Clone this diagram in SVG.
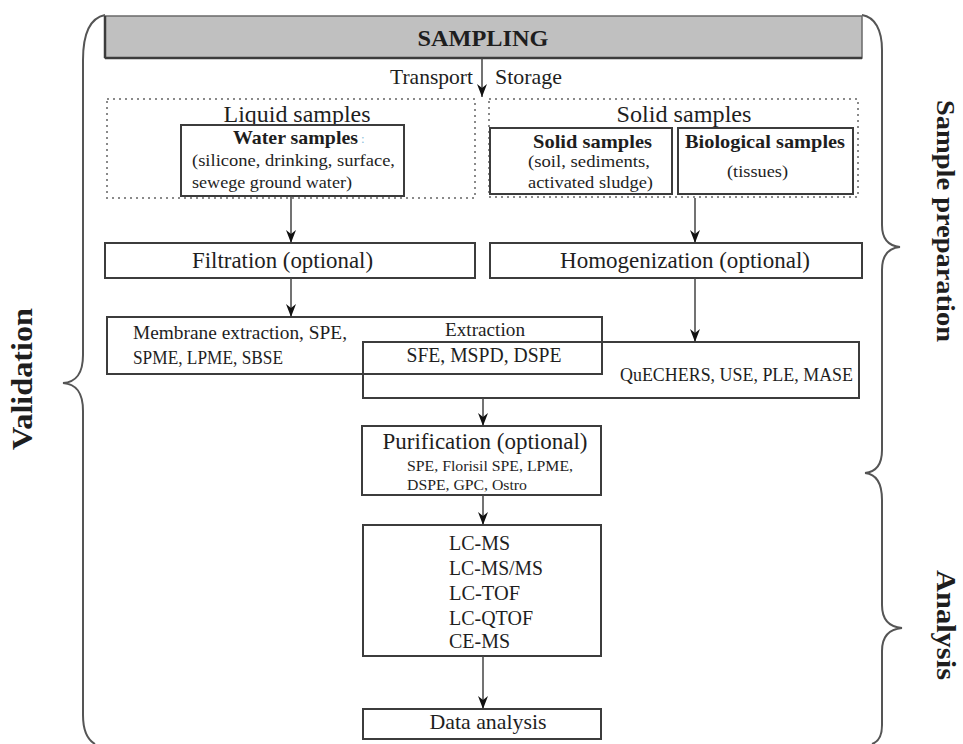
<svg xmlns="http://www.w3.org/2000/svg" width="963" height="744" viewBox="0 0 963 744">
<style>
text{font-family:"Liberation Serif","Times New Roman",serif;fill:#1e1e1e}
.box{fill:#fff;stroke:#3c3c3c;stroke-width:2}
.ext{fill:none;stroke:#3c3c3c;stroke-width:2}
.dot{fill:none;stroke:#8a8a8a;stroke-width:2;stroke-dasharray:2 4}
.brace{fill:none;stroke:#555;stroke-width:2}
.con{stroke:#444;stroke-width:1.5;fill:none;marker-end:url(#ah)}
.b{font-weight:bold}
.m{text-anchor:middle}
</style>
<defs>
<marker id="ah" markerUnits="userSpaceOnUse" markerWidth="10" markerHeight="13" refX="5" refY="13" orient="0" viewBox="0 0 10 13">
<path d="M0,0 L5,4 L10,0 L5,13 Z" fill="#111"/>
</marker>
</defs>

<g id="braces">
<path class="brace" d="M105,15 C90,18 83,35 83,60 L83,355 C83,374 76,382 63,383 C76,384 83,392 83,411 L83,715 C83,732 88,740 95,744"/>
<path class="brace" d="M862,15 C875,17 882,30 882,50 L882,225 C882,240 889,246 900,247 C889,248 882,255 882,270 L882,450 C882,465 875,472 865,473"/>
<path class="brace" d="M865,473 C875,474 882,482 882,500 L882,605 C882,620 890,627 902,628 C890,629 882,636 882,651 L882,725 C882,737 878,742 872,744"/>
</g>

<g id="sampling">
<rect x="105" y="16" width="757" height="42" fill="#c0c0c0" stroke="#6a6a6a" stroke-width="1.5"/>
<line x1="105" y1="58" x2="862" y2="58" stroke="#3c3c3c" stroke-width="2.5"/>
<line x1="105" y1="16" x2="105" y2="58" stroke="#3c3c3c" stroke-width="2.5"/>
<text class="b m" x="483" y="46" font-size="24" textLength="131" lengthAdjust="spacingAndGlyphs">SAMPLING</text>
</g>

<g id="transport-labels">
<text x="390" y="84" font-size="21" textLength="83" lengthAdjust="spacingAndGlyphs">Transport</text>
<text x="495" y="84" font-size="21" textLength="67" lengthAdjust="spacingAndGlyphs">Storage</text>
</g>

<g id="liquid-group">
<rect class="dot" x="107" y="99" width="368" height="99"/>
<text class="m" x="297" y="122" font-size="24" textLength="147" lengthAdjust="spacingAndGlyphs">Liquid samples</text>
</g>
<g id="solid-group">
<rect class="dot" x="489" y="99" width="369" height="98"/>
<text class="m" x="684" y="122" font-size="24" textLength="135" lengthAdjust="spacingAndGlyphs">Solid samples</text>
</g>

<g id="water">
<rect class="box" x="181" y="125" width="223" height="71"/>
<text class="b" x="233" y="144" font-size="19" textLength="125" lengthAdjust="spacingAndGlyphs">Water samples</text>
<text x="361" y="143" font-size="13" style="fill:#8cc0dc">:</text>
<text x="192" y="166" font-size="17" textLength="203" lengthAdjust="spacingAndGlyphs">(silicone, drinking, surface,</text>
<text x="192" y="188" font-size="17" textLength="160" lengthAdjust="spacingAndGlyphs">sewege ground water)</text>
</g>

<g id="solid">
<rect class="box" x="490" y="128" width="182" height="66"/>
<text class="b" x="533" y="148" font-size="19" textLength="119" lengthAdjust="spacingAndGlyphs">Solid samples</text>
<text x="528" y="167" font-size="17" textLength="122" lengthAdjust="spacingAndGlyphs">(soil, sediments,</text>
<text x="528" y="188" font-size="17" textLength="125" lengthAdjust="spacingAndGlyphs">activated sludge)</text>
</g>

<g id="biological">
<rect class="box" x="678" y="128" width="175" height="66"/>
<text class="b" x="685" y="148" font-size="19" textLength="160" lengthAdjust="spacingAndGlyphs">Biological samples</text>
<text x="727" y="177" font-size="17" textLength="61" lengthAdjust="spacingAndGlyphs">(tissues)</text>
</g>

<g id="filtration">
<rect class="box" x="105" y="243" width="370" height="35"/>
<text x="192" y="268" font-size="23" textLength="181" lengthAdjust="spacingAndGlyphs">Filtration (optional)</text>
</g>

<g id="homogenization">
<rect class="box" x="490" y="243" width="372" height="35"/>
<text x="560" y="268" font-size="23" textLength="250" lengthAdjust="spacingAndGlyphs">Homogenization (optional)</text>
</g>

<g id="extraction">
<rect class="ext" x="107" y="317" width="495" height="57"/>
<rect class="ext" x="363" y="342" width="496" height="56"/>
<text x="133" y="339" font-size="19" textLength="214" lengthAdjust="spacingAndGlyphs">Membrane extraction, SPE,</text>
<text x="133" y="364" font-size="19" textLength="150" lengthAdjust="spacingAndGlyphs">SPME, LPME, SBSE</text>
<text class="m" x="485" y="336" font-size="19" textLength="80" lengthAdjust="spacingAndGlyphs">Extraction</text>
<text class="m" x="484" y="362" font-size="20" textLength="155" lengthAdjust="spacingAndGlyphs">SFE, MSPD, DSPE</text>
<text x="620" y="381" font-size="18" textLength="233" lengthAdjust="spacingAndGlyphs">QuECHERS, USE, PLE, MASE</text>
</g>

<g id="purification">
<rect class="box" x="362" y="426" width="239" height="69"/>
<text class="m" x="485" y="449" font-size="23" textLength="205" lengthAdjust="spacingAndGlyphs">Purification (optional)</text>
<text x="407" y="471" font-size="14" textLength="166" lengthAdjust="spacingAndGlyphs">SPE, Florisil SPE, LPME,</text>
<text x="407" y="490" font-size="14" textLength="120" lengthAdjust="spacingAndGlyphs">DSPE, GPC, Ostro</text>
</g>

<g id="techniques">
<rect class="box" x="363" y="525" width="238" height="131"/>
<text x="449" y="550" font-size="20" textLength="61" lengthAdjust="spacingAndGlyphs">LC-MS</text>
<text x="449" y="575" font-size="20" textLength="94" lengthAdjust="spacingAndGlyphs">LC-MS/MS</text>
<text x="449" y="600" font-size="20" textLength="71" lengthAdjust="spacingAndGlyphs">LC-TOF</text>
<text x="449" y="625" font-size="20" textLength="84" lengthAdjust="spacingAndGlyphs">LC-QTOF</text>
<text x="449" y="648" font-size="20" textLength="61" lengthAdjust="spacingAndGlyphs">CE-MS</text>
</g>

<g id="data-analysis">
<rect class="box" x="363" y="709" width="238" height="30"/>
<text class="m" x="488" y="729" font-size="21" textLength="117" lengthAdjust="spacingAndGlyphs">Data analysis</text>
</g>

<g id="side-labels">
<text class="b m" transform="translate(32,379) rotate(-90)" font-size="29" textLength="142" lengthAdjust="spacingAndGlyphs">Validation</text>
<text class="b m" transform="translate(937,221) rotate(90)" font-size="26" textLength="242" lengthAdjust="spacingAndGlyphs">Sample preparation</text>
<text class="b m" transform="translate(937,625) rotate(90)" font-size="27" textLength="110" lengthAdjust="spacingAndGlyphs">Analysis</text>
</g>

<g id="connectors">
<line class="con" x1="482" y1="58" x2="482" y2="97"/>
<line class="con" x1="291" y1="196" x2="291" y2="243"/>
<line class="con" x1="695" y1="198" x2="695" y2="243"/>
<line class="con" x1="291" y1="278" x2="291" y2="317"/>
<line class="con" x1="695" y1="278" x2="695" y2="342"/>
<line class="con" x1="483" y1="398" x2="483" y2="426"/>
<line class="con" x1="483" y1="495" x2="483" y2="525"/>
<line class="con" x1="483" y1="656" x2="483" y2="709"/>
</g>
</svg>
